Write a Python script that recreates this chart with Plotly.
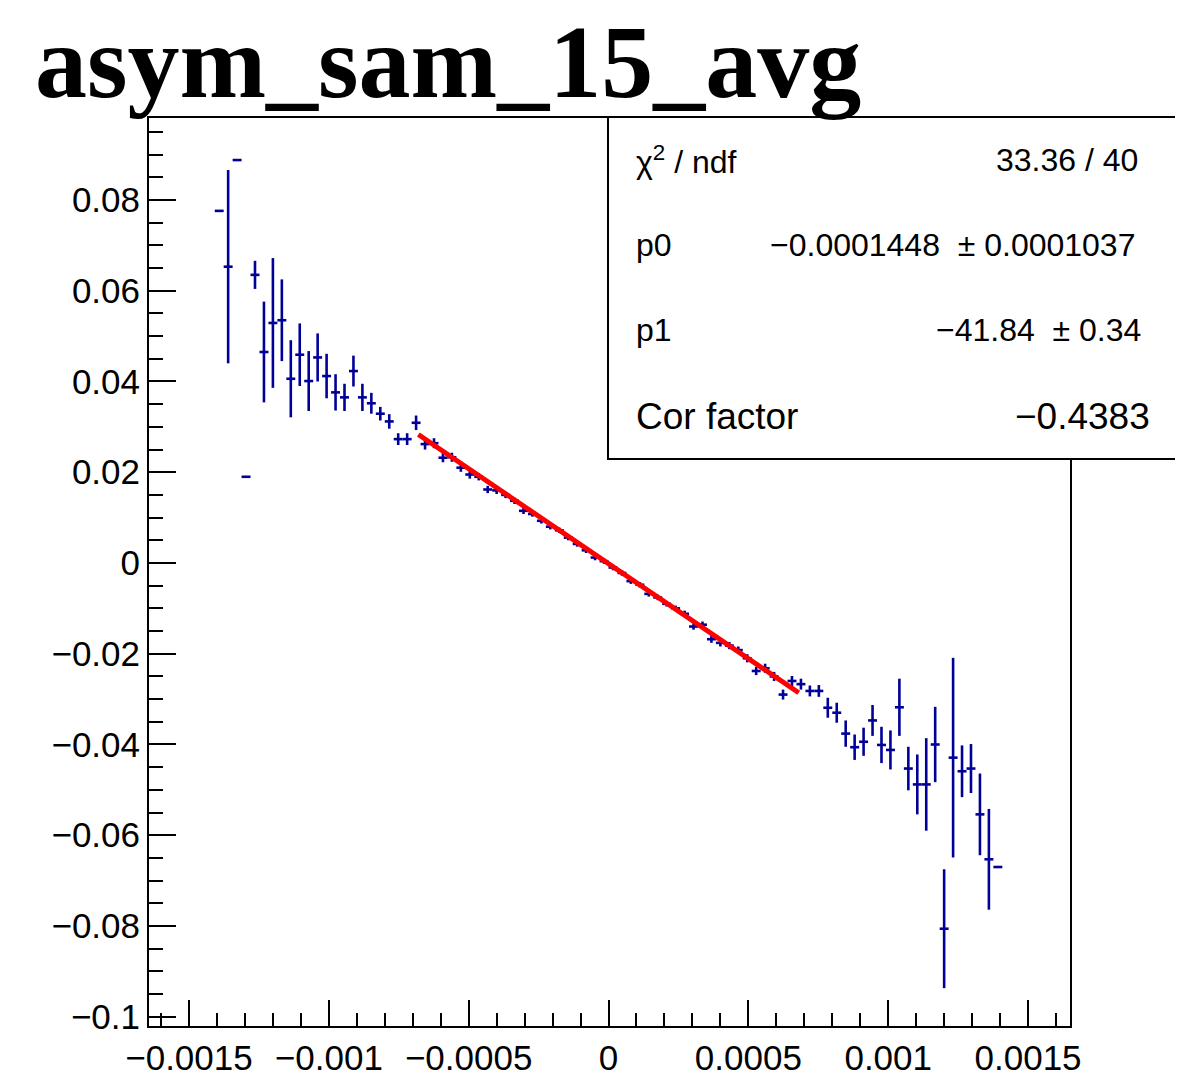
import plotly.graph_objects as go

# ---------------- data ----------------
title_text = "asym_sam_15_avg"

# histogram binning: 100 bins between -0.0016 and 0.0016; filled bins 6..93
bin_low, bin_high, n_bins = -0.0016, 0.0016, 100
filled_bins = list(range(6, 94))

values = [
    0.0776, 0.0653, 0.0888, 0.0190, 0.0635, 0.0465, 0.0529, 0.0535, 0.0406, 0.0459,   # k6-15
    0.0401, 0.0453, 0.0412, 0.0376, 0.0365, 0.0423, 0.0365, 0.0352, 0.0329, 0.0312,   # k16-25
    0.0273, 0.0273, 0.0309, 0.0262, 0.0264, 0.0232, 0.0233, 0.0210, 0.0195, 0.0190,   # k26-35
    0.0162, 0.0160, 0.0150, 0.0137, 0.0115, 0.0108, 0.0093, 0.0080, 0.0072, 0.0056,   # k36-45
    0.0042, 0.0028, 0.0012, 0.0004, -0.0010, -0.0022, -0.0040, -0.0048, -0.0068, -0.0076,  # k46-55
    -0.0090, -0.0100, -0.0112, -0.0140, -0.0136, -0.0168, -0.0176, -0.0182, -0.0192, -0.0210,  # k56-65
    -0.0238, -0.0232, -0.0250, -0.0290, -0.0260, -0.0267, -0.0282, -0.0282, -0.0319, -0.0330,  # k66-75
    -0.0376, -0.0406, -0.0394, -0.0347, -0.0401, -0.0412, -0.0318, -0.0453, -0.0488, -0.0488,  # k76-85
    -0.0400, -0.0806, -0.0429, -0.0459, -0.0453, -0.0554, -0.0653, -0.0670,                    # k86-93
]
errors = [
    0.0, 0.0213, 0.0, 0.0, 0.0031, 0.0111, 0.0143, 0.0090, 0.0085, 0.0069,
    0.0066, 0.0053, 0.0049, 0.0040, 0.0030, 0.0034, 0.0030, 0.0023, 0.0015, 0.0016,
    0.0013, 0.0013, 0.0016, 0.0012, 0.0011, 0.0010, 0.0010, 0.0009, 0.0009, 0.0008,
    0.0008, 0.0008, 0.0007, 0.0007, 0.0007, 0.0006, 0.0006, 0.0006, 0.0006, 0.0006,
    0.0006, 0.0006, 0.0006, 0.0006, 0.0006, 0.0006, 0.0006, 0.0006, 0.0006, 0.0006,
    0.0006, 0.0006, 0.0007, 0.0007, 0.0007, 0.0008, 0.0008, 0.0008, 0.0008, 0.0009,
    0.0009, 0.0010, 0.0010, 0.0011, 0.0011, 0.0012, 0.0012, 0.0013, 0.0022, 0.0022,
    0.0029, 0.0028, 0.0031, 0.0034, 0.0040, 0.0043, 0.0063, 0.0048, 0.0066, 0.0102,
    0.0083, 0.0131, 0.0220, 0.0057, 0.0054, 0.0090, 0.0111, 0.0,
]

# linear fit pol1
fit_range = [-0.00068, 0.00068]
p0, p0_err = -0.0001448, 0.0001037
p1, p1_err = -41.84, 0.34
chi2, ndf = 33.36, 40
cor_factor = -0.4383

x_tickvals = [-0.0015, -0.001, -0.0005, 0, 0.0005, 0.001, 0.0015]
x_ticktext = ["\u22120.0015", "\u22120.001", "\u22120.0005", "0", "0.0005", "0.001", "0.0015"]
y_tickvals = [0.08, 0.06, 0.04, 0.02, 0, -0.02, -0.04, -0.06, -0.08, -0.1]
y_ticktext = ["0.08", "0.06", "0.04", "0.02", "0", "\u22120.02", "\u22120.04",
              "\u22120.06", "\u22120.08", "\u22120.1"]

# ---------------- figure ----------------
bin_w = (bin_high - bin_low) / n_bins
xc = [bin_low + (k + 0.5) * bin_w for k in filled_bins]

BLUE = "#000099"
fig = go.Figure()
fig.add_trace(go.Scatter(
    x=xc, y=values, mode="markers",
    marker=dict(size=1, color=BLUE),
    error_y=dict(type="data", array=errors, visible=True, color=BLUE, thickness=2.6, width=0),
    error_x=dict(type="constant", value=bin_w / 2, visible=True, color=BLUE, thickness=2.6, width=0),
    hoverinfo="skip", showlegend=False,
))
fit_y = [p0 + p1 * v for v in fit_range]
fig.add_trace(go.Scatter(
    x=fit_range, y=fit_y, mode="lines",
    line=dict(color="#ff0000", width=5),
    hoverinfo="skip", showlegend=False,
))

OFF = 8  # page body margin
W, H = 1183 - OFF, 1083 - OFF
L, R, T, B = 149 - OFF, 1070 - OFF, 118 - OFF, 1026 - OFF
pw, ph = R - L, B - T


def px(x):
    return (x - OFF - L) / pw


def py(y):
    return (B - (y - OFF)) / ph


axis_font = dict(family="Liberation Sans, Arial, sans-serif", size=35, color="black")

fig.update_layout(
    width=W, height=H, autosize=False,
    margin=dict(l=L, r=W - R, t=T, b=H - B),
    paper_bgcolor="white", plot_bgcolor="white",
    xaxis=dict(
        range=[-0.001643, 0.00165], tickmode="array", tickvals=x_tickvals, ticktext=x_ticktext,
        ticks="inside", ticklen=26, tickwidth=1.6, tickcolor="black", automargin=False,
        minor=dict(tickmode="linear", tick0=0, dtick=0.0001, ticks="inside", ticklen=13,
                   tickwidth=1.6, tickcolor="black"),
        showline=True, linecolor="black", linewidth=2, mirror=True,
        showgrid=False, zeroline=False, tickfont=axis_font,
    ),
    yaxis=dict(
        range=[-0.10204, 0.09807], tickmode="array", tickvals=y_tickvals, ticktext=y_ticktext,
        ticks="inside", ticklen=27, tickwidth=1.6, tickcolor="black", automargin=False,
        minor=dict(tickmode="linear", tick0=0, dtick=0.005, ticks="inside", ticklen=14,
                   tickwidth=1.6, tickcolor="black"),
        showline=True, linecolor="black", linewidth=2, mirror=True,
        showgrid=False, zeroline=False, tickfont=axis_font,
    ),
)

# stats box
fig.add_shape(type="rect", xref="paper", yref="paper",
              x0=px(608), x1=px(1181), y0=py(459), y1=py(117),
              line=dict(color="black", width=2), fillcolor="white", layer="above")

stat_font = dict(family="Liberation Sans, Arial, sans-serif", size=32, color="black")
big_stat_font = dict(family="Liberation Sans, Arial, sans-serif", size=37, color="black")


def fmt(v):
    s = f"{v:g}" if abs(v) >= 0.001 else f"{v:.7f}"
    return s.replace("-", "\u2212")


rows = [
    ("\u03c7<sup>2</sup> / ndf", f"{chi2:.2f} / {ndf}", 160, 1140, stat_font),
    ("p0", f"{fmt(p0)}\u00a0 \u00b1 {fmt(p0_err)}", 245, 1137, stat_font),
    ("p1", f"{fmt(p1)}\u00a0 \u00b1 {fmt(p1_err)}", 330, 1143, stat_font),
    ("Cor factor", fmt(cor_factor), 416, 1152, big_stat_font),
]
for label, val, yy, xr, f in rows:
    fig.add_annotation(xref="paper", yref="paper", x=px(634), y=py(yy), text=label,
                       showarrow=False, xanchor="left", yanchor="middle", font=f)
    fig.add_annotation(xref="paper", yref="paper", x=px(xr), y=py(yy), text=val,
                       showarrow=False, xanchor="right", yanchor="middle", font=f)

# title
fig.add_annotation(xref="paper", yref="paper", x=px(33), y=py(62), text=f"<b>{title_text}</b>",
                   showarrow=False, xanchor="left", yanchor="middle",
                   font=dict(family="Liberation Serif, Times New Roman, serif", size=104, color="black"))

fig.write_html("out.html")
